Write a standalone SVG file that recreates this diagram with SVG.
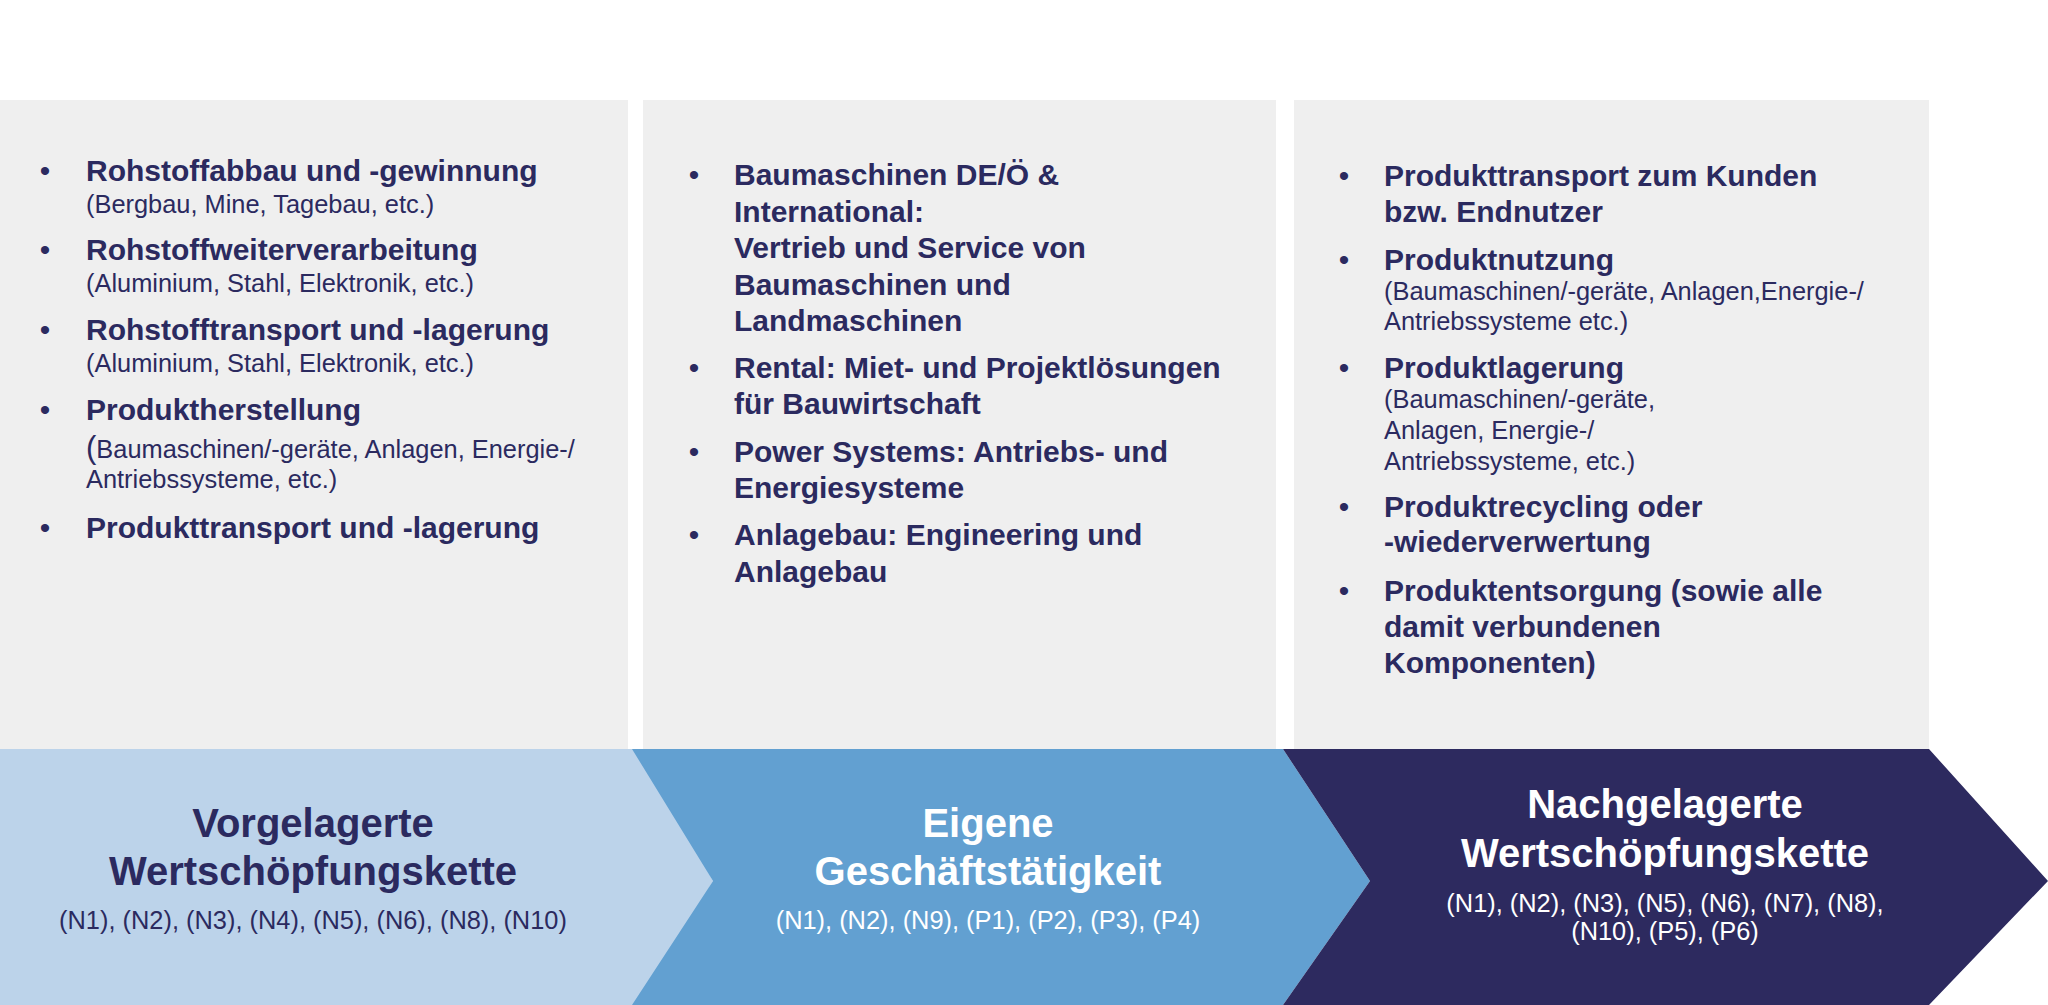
<svg xmlns="http://www.w3.org/2000/svg" width="2048" height="1005" viewBox="0 0 2048 1005">
  <style>
    .panel { fill: #EFEFEF; }
    .b { font-family: "Liberation Sans", Arial, sans-serif; font-weight: bold; font-size: 30px; fill: #2B2A5F; }
    .r { font-family: "Liberation Sans", Arial, sans-serif; font-size: 25.4px; fill: #2B2A5F; }
    .dot { font-family: "Liberation Sans", Arial, sans-serif; font-size: 30px; fill: #2B2A5F; text-anchor: middle; }
    .t { font-family: "Liberation Sans", Arial, sans-serif; font-weight: bold; font-size: 40px; text-anchor: middle; }
    .s { font-family: "Liberation Sans", Arial, sans-serif; font-size: 25.4px; text-anchor: middle; }
    .navy { fill: #2B2A5F; }
    .white { fill: #FFFFFF; }
  </style>
  <rect width="2048" height="1005" fill="#FFFFFF"/>

  <g id="panel-upstream">
    <rect class="panel" x="0" y="100" width="628" height="650"/>
    <text class="dot" x="45" y="181">•</text>
    <text class="b" x="86" y="181">Rohstoffabbau und -gewinnung</text>
    <text class="r" x="86" y="213">(Bergbau, Mine, Tagebau, etc.)</text>
    <text class="dot" x="45" y="260">•</text>
    <text class="b" x="86" y="260">Rohstoffweiterverarbeitung</text>
    <text class="r" x="86" y="292">(Aluminium, Stahl, Elektronik, etc.)</text>
    <text class="dot" x="45" y="340">•</text>
    <text class="b" x="86" y="340">Rohstofftransport und -lagerung</text>
    <text class="r" x="86" y="372">(Aluminium, Stahl, Elektronik, etc.)</text>
    <text class="dot" x="45" y="420">•</text>
    <text class="b" x="86" y="420">Produktherstellung</text>
    <text class="r" x="86" y="458"><tspan font-size="31">(</tspan>Baumaschinen/-geräte, Anlagen, Energie-/</text>
    <text class="r" x="86" y="488">Antriebssysteme, etc.)</text>
    <text class="dot" x="45" y="538">•</text>
    <text class="b" x="86" y="538">Produkttransport und -lagerung</text>
  </g>

  <g id="panel-own">
    <rect class="panel" x="643" y="100" width="633" height="650"/>
    <text class="dot" x="694" y="185">•</text>
    <text class="b" x="734" y="185">Baumaschinen DE/Ö &amp;</text>
    <text class="b" x="734" y="221.6">International:</text>
    <text class="b" x="734" y="258.2">Vertrieb und Service von</text>
    <text class="b" x="734" y="294.8">Baumaschinen und</text>
    <text class="b" x="734" y="331.4">Landmaschinen</text>
    <text class="dot" x="694" y="377.5">•</text>
    <text class="b" x="734" y="377.5">Rental: Miet- und Projektlösungen</text>
    <text class="b" x="734" y="414">für Bauwirtschaft</text>
    <text class="dot" x="694" y="461.5">•</text>
    <text class="b" x="734" y="461.5">Power Systems: Antriebs- und</text>
    <text class="b" x="734" y="498">Energiesysteme</text>
    <text class="dot" x="694" y="545">•</text>
    <text class="b" x="734" y="545">Anlagebau: Engineering und</text>
    <text class="b" x="734" y="581.5">Anlagebau</text>
  </g>

  <g id="panel-downstream">
    <rect class="panel" x="1294" y="100" width="635" height="650"/>
    <text class="dot" x="1344" y="186">•</text>
    <text class="b" x="1384" y="186">Produkttransport zum Kunden</text>
    <text class="b" x="1384" y="221.6">bzw. Endnutzer</text>
    <text class="dot" x="1344" y="269.6">•</text>
    <text class="b" x="1384" y="269.6">Produktnutzung</text>
    <text class="r" x="1384" y="300.4">(Baumaschinen/-geräte, Anlagen,Energie-/</text>
    <text class="r" x="1384" y="330.3">Antriebssysteme etc.)</text>
    <text class="dot" x="1344" y="377.5">•</text>
    <text class="b" x="1384" y="377.5">Produktlagerung</text>
    <text class="r" x="1384" y="408.3">(Baumaschinen/-geräte,</text>
    <text class="r" x="1384" y="439">Anlagen, Energie-/</text>
    <text class="r" x="1384" y="469.8">Antriebssysteme, etc.)</text>
    <text class="dot" x="1344" y="517">•</text>
    <text class="b" x="1384" y="517">Produktrecycling oder</text>
    <text class="b" x="1384" y="552">-wiederverwertung</text>
    <text class="dot" x="1344" y="601">•</text>
    <text class="b" x="1384" y="601">Produktentsorgung (sowie alle</text>
    <text class="b" x="1384" y="637">damit verbundenen</text>
    <text class="b" x="1384" y="673">Komponenten)</text>
  </g>

  <g id="arrow-upstream">
    <polygon points="0,749 640,749 713,881 640,1005 0,1005" fill="#BCD3EA"/>
    <text class="t navy" x="313" y="837">Vorgelagerte</text>
    <text class="t navy" x="313" y="885">Wertschöpfungskette</text>
    <text class="s navy" x="313" y="929">(N1), (N2), (N3), (N4), (N5), (N6), (N8), (N10)</text>
  </g>

  <g id="arrow-own">
    <polygon points="632,749 1283,749 1370,881 1283,1005 632,1005 713,881" fill="#62A0D1"/>
    <text class="t white" x="988" y="837">Eigene</text>
    <text class="t white" x="988" y="885">Geschäftstätigkeit</text>
    <text class="s white" x="988" y="929">(N1), (N2), (N9), (P1), (P2), (P3), (P4)</text>
  </g>

  <g id="arrow-downstream">
    <polygon points="1283,749 1929,749 2048,881 1929,1005 1283,1005 1370,881" fill="#2D2A5F"/>
    <text class="t white" x="1665" y="818">Nachgelagerte</text>
    <text class="t white" x="1665" y="867">Wertschöpfungskette</text>
    <text class="s white" x="1665" y="912">(N1), (N2), (N3), (N5), (N6), (N7), (N8),</text>
    <text class="s white" x="1665" y="940">(N10), (P5), (P6)</text>
  </g>

  <g id="connectors"></g>
</svg>
